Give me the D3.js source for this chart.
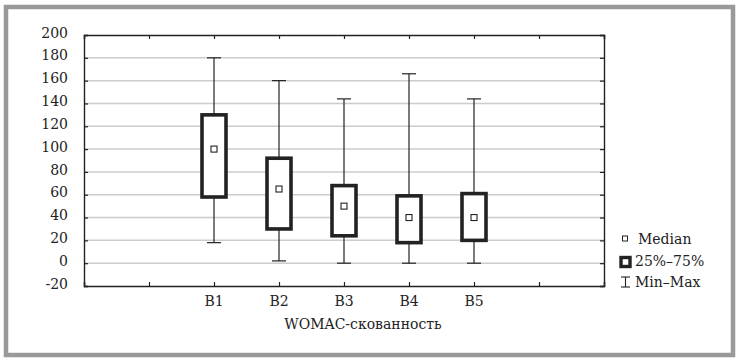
<!DOCTYPE html>
<html>
<head>
<meta charset="utf-8">
<script src="https://cdn.jsdelivr.net/npm/d3@7"></script>
<style>
  body { margin: 0; background: #fff; }
</style>
</head>
<body>
<div id="chart"></div>
<script>
var svgWidth = 739;
var svgHeight = 362;

// data
var groups = ["B1", "B2", "B3", "B4", "B5"];
var mins = [18, 2, 0, 0, 0];
var q1s = [58, 30, 24, 18, 20];
var medians = [100, 65, 50, 40, 40];
var q3s = [130, 92, 68, 59, 61];
var maxs = [180, 160, 144, 166, 144];
var yTicks = [-20, 0, 20, 40, 60, 80, 100, 120, 140, 160, 180, 200];
var xTitle = "WOMAC-скованность";
var legendLabels = ["Median", "25%–75%", "Min–Max"];

var plot = { left: 84, top: 35, right: 604, bottom: 286 };
var serif = "'DejaVu Serif', 'Liberation Serif', serif";
var fontSize = 14;

var svg = d3.select("#chart")
  .append("svg")
  .attr("width", svgWidth)
  .attr("height", svgHeight);

// outer grey frame
svg.append("rect")
  .attr("x", 6).attr("y", 7)
  .attr("width", 727).attr("height", 348)
  .attr("fill", "none")
  .attr("stroke", "#999")
  .attr("stroke-width", 4.5);

// 8 slots along x, boxes sit on slots 2..6
var xScale = d3.scaleLinear()
  .domain([0, 8])
  .range([plot.left, plot.right]);

var yScale = d3.scaleLinear()
  .domain([-20, 200])
  .range([plot.bottom, plot.top]);

var slot = function(i) { return xScale(i + 2); };

// gridlines
svg.append("g")
  .selectAll("line")
  .data(yTicks.filter(function(t) { return t >= 0 && t < 200; }))
  .enter()
  .append("line")
  .attr("x1", plot.left).attr("x2", plot.right)
  .attr("y1", d => yScale(d)).attr("y2", d => yScale(d))
  .attr("stroke", "#cccccc")
  .attr("stroke-width", 1.5);

// axes, ticks pointing inward
var leftAxis = d3.axisLeft(yScale).tickValues(yTicks).tickSize(-4).tickPadding(16)
  .tickFormat(d => String(d));
var rightAxis = d3.axisRight(yScale).tickValues(yTicks).tickSize(-4).tickFormat("");
var topAxis = d3.axisTop(xScale).ticks(8).tickSize(-4).tickFormat("");
var bottomAxis = d3.axisBottom(xScale).ticks(8).tickSize(-4).tickFormat("");

var yAxisG = svg.append("g")
  .attr("transform", `translate(${plot.left}, 0)`)
  .call(leftAxis);
svg.append("g")
  .attr("transform", `translate(${plot.right}, 0)`)
  .call(rightAxis);
svg.append("g")
  .attr("transform", `translate(0, ${plot.top})`)
  .call(topAxis);
svg.append("g")
  .attr("transform", `translate(0, ${plot.bottom})`)
  .call(bottomAxis);

svg.selectAll(".domain").attr("stroke", "#222").attr("stroke-width", 1.4);
svg.selectAll(".tick line").attr("stroke", "#222").attr("stroke-width", 1.2);
yAxisG.attr("font-family", serif).attr("font-size", fontSize);
yAxisG.selectAll("text")
  .attr("fill", "#222")
  .attr("dy", "0.15em");

// category labels
svg.append("g")
  .selectAll("text")
  .data(groups)
  .enter()
  .append("text")
  .attr("x", (d, i) => slot(i))
  .attr("y", 306)
  .attr("text-anchor", "middle")
  .attr("font-family", serif)
  .attr("font-size", fontSize)
  .attr("fill", "#222")
  .text(d => d);

svg.append("text")
  .attr("x", 363)
  .attr("y", 329)
  .attr("text-anchor", "middle")
  .attr("font-family", serif)
  .attr("font-size", fontSize)
  .attr("fill", "#222")
  .text(xTitle);

// whiskers and boxes
var boxes = svg.append("g");
var boxHalf = 12;
var capHalf = 7;

groups.forEach(function(g, i) {
  var cx = slot(i);
  boxes.append("line")
    .attr("x1", cx).attr("x2", cx)
    .attr("y1", yScale(maxs[i])).attr("y2", yScale(mins[i]))
    .attr("stroke", "#222").attr("stroke-width", 1.2);
  [mins[i], maxs[i]].forEach(function(v) {
    boxes.append("line")
      .attr("x1", cx - capHalf).attr("x2", cx + capHalf)
      .attr("y1", yScale(v)).attr("y2", yScale(v))
      .attr("stroke", "#222").attr("stroke-width", 1.2);
  });
  boxes.append("rect")
    .attr("x", cx - boxHalf)
    .attr("y", yScale(q3s[i]))
    .attr("width", boxHalf * 2)
    .attr("height", yScale(q1s[i]) - yScale(q3s[i]))
    .attr("fill", "#fff")
    .attr("stroke", "#222")
    .attr("stroke-width", 3.6);
  boxes.append("rect")
    .attr("x", cx - 3)
    .attr("y", yScale(medians[i]) - 3)
    .attr("width", 6).attr("height", 6)
    .attr("fill", "#fff")
    .attr("stroke", "#222")
    .attr("stroke-width", 1.1);
});

// legend
var legend = svg.append("g");
legend.append("rect")
  .attr("x", 622.5).attr("y", 236)
  .attr("width", 5).attr("height", 5)
  .attr("fill", "#fff").attr("stroke", "#222").attr("stroke-width", 1);
legend.append("rect")
  .attr("x", 621).attr("y", 257.5)
  .attr("width", 9).attr("height", 9)
  .attr("fill", "#fff").attr("stroke", "#222").attr("stroke-width", 3.4);
legend.append("line")
  .attr("x1", 625.5).attr("x2", 625.5).attr("y1", 277).attr("y2", 287)
  .attr("stroke", "#222").attr("stroke-width", 1.1);
legend.append("line")
  .attr("x1", 621).attr("x2", 630).attr("y1", 277).attr("y2", 277)
  .attr("stroke", "#222").attr("stroke-width", 1.1);
legend.append("line")
  .attr("x1", 621).attr("x2", 630).attr("y1", 287).attr("y2", 287)
  .attr("stroke", "#222").attr("stroke-width", 1.1);

legend.selectAll("text")
  .data(legendLabels)
  .enter()
  .append("text")
  .attr("x", (d, i) => i === 0 ? 638 : 635)
  .attr("y", (d, i) => 244 + i * 21.5)
  .attr("font-family", serif)
  .attr("font-size", fontSize)
  .attr("fill", "#222")
  .text(d => d);
</script>
</body>
</html>
